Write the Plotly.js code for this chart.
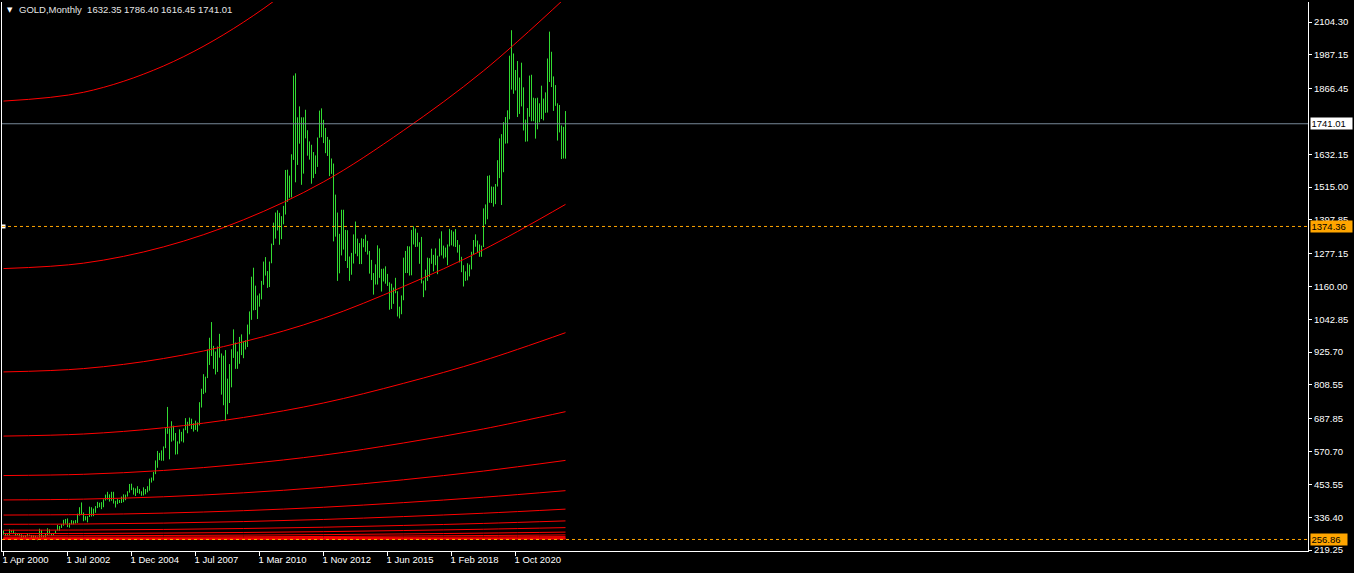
<!DOCTYPE html>
<html>
<head>
<meta charset="utf-8">
<script src="https://cdn.plot.ly/plotly-3.0.1.min.js"></script>
<style>
html,body{margin:0;padding:0;background:#000;}
#chart{width:1354px;height:573px;}
</style>
</head>
<body>
<div id="chart"></div>
<script>
// ---- DATA ----
const symbolTitle = 'GOLD,Monthly';
const headerOHLC = [1632.35, 1786.40, 1616.45, 1741.01];

// monthly bars (bar index order, Apr 2000 .. Nov 2022, broker data with a few extra bars)
const barHigh = [
  289,278,276,293,290,291,281,279,277,275,271,272,276,274,273,272,270,267,
  295,291,272,280,297,293,279,280,289,309,305,312,327,330,
  332,316,326,324,326,349,372,389,353,340,340,374,372,367,376,391,388,390,400,417,427,418,427,427,395,401,398,410,418,417,429,455,
  456,442,439,447,437,429,443,437,447,474,478,498,539,573,566,575,589,654,730,653,679,663,637,607,650,641,653,690,677,692,688,672,
  681,675,747,795,847,838,935,977,1033,948,928,946,991,921,913,933,831,883,936,1007,960,928,980,989,964,968,1024,1071,1195,1227,1163,1128,
  1135,1180,1249,1265,1215,1249,1313,1388,1424,1432,1423,1411,1448,1576,1577,1556,1632,1913,1921,1764,1803,1764,1764,1791,1718,1678,1666,1640,1628,1692,1788,1796,
  1755,1726,1694,1684,1617,1599,1488,1424,1348,1434,1434,1362,1361,1267,1280,1346,1392,1331,1315,1332,1330,1345,1323,1287,1255,1208,1239,1307,1296,1223,1224,1232,
  1205,1175,1170,1156,1191,1143,1088,1128,1263,1287,1304,1303,1362,1375,1367,1352,1318,1337,1181,1220,1263,1261,1295,1273,1296,1270,1331,1357,1306,1299,1310,1366,
  1361,1356,1365,1326,1309,1266,1236,1214,1243,1238,1284,1326,1346,1324,1310,1306,1439,1453,1555,1557,1517,1516,1526,1611,1689,1704,1747,1765,1789,1984,2075,1992,
  1933,1965,1906,1959,1871,1756,1797,1913,1916,1834,1832,1834,1814,1877,1831,1853,1974,2070,1998,1910,1879,1814,1808,1735,1730,1786.40
];
const barLow = [
  274,270,271,271,282,276,270,272,268,263,264,263,268,269,262,255,256,254,
  260,265,264,264,271,275,271,272,277,289,288,298,306,313,
  301,299,311,311,314,316,342,344,322,325,318,337,339,340,352,369,372,365,372,396,399,392,395,385,371,383,387,387,390,397,410,424,
  433,417,412,423,420,413,414,418,425,431,460,467,490,513,540,538,538,583,634,543,606,610,560,561,599,607,603,647,636,662,651,642,
  648,642,664,728,776,781,833,880,912,866,846,855,906,774,736,681,704,744,800,905,866,866,884,915,904,935,944,989,1041,1075,1076,1044,
  1088,1114,1166,1199,1155,1158,1243,1308,1331,1360,1309,1329,1382,1417,1462,1477,1478,1612,1532,1594,1670,1523,1563,1689,1627,1613,1527,1547,1562,1587,1691,1693,
  1672,1636,1626,1554,1562,1321,1338,1180,1207,1271,1292,1251,1226,1180,1202,1242,1277,1268,1240,1240,1300,1284,1274,1206,1183,1131,1167,1167,1191,1142,1178,1170,
  1162,1077,1080,1098,1136,1053,1046,1061,1111,1208,1208,1199,1200,1310,1301,1302,1241,1171,1122,1146,1180,1194,1241,1214,1236,1204,1267,1271,1260,1264,1236,1303,
  1307,1303,1301,1281,1246,1211,1160,1180,1182,1196,1221,1276,1302,1281,1266,1266,1301,1382,1400,1459,1458,1445,1454,1517,1547,1451,1568,1670,1671,1757,1863,1848,
  1860,1765,1776,1803,1717,1677,1678,1766,1750,1750,1688,1721,1746,1758,1753,1780,1781,1890,1872,1787,1805,1681,1710,1615,1617,1616.45
];

// time-axis labels at bar indices
const tickBars = [0, 32, 64, 96, 128, 160, 192, 224, 256];
const tickLabels = ['1 Apr 2000','1 Jul 2002','1 Dec 2004','1 Jul 2007','1 Mar 2010','1 Nov 2012','1 Jun 2015','1 Feb 2018','1 Oct 2020'];

// price-axis labels
const priceTicks = [2104.30,1987.15,1866.45,1632.15,1515.00,1397.85,1277.15,1160.00,1042.85,925.70,808.55,687.85,570.70,453.55,336.40,219.25];

// horizontal levels
const lastPrice = 1741.01;
const levelUpper = 1374.36;
const levelLower = 256.86;

// red arcs: base, start levels (at first bar) and growth factor along the bars
const arcBase = 256.86;
const arcLevels = [1822, 1224, 855, 626, 485, 398, 344, 311, 290, 278, 270, 265, 262, 260.1, 258.9, 258.2, 257.7];
const arcBars = [0, 40, 80, 120, 160, 200, 240, 281];
const arcGrowth = [1.00, 1.02, 1.08, 1.18, 1.32, 1.51, 1.73, 2.00];

// ---- BUILD ----
const fontFam = 'Liberation Sans, Arial, sans-serif';
const barX = [], barY = [];
for (let i = 0; i < barHigh.length; i++) {
  barX.push(i, i, null);
  barY.push(barLow[i], barHigh[i], null);
}
const traces = [{
  type: 'scatter', mode: 'lines', x: barX, y: barY,
  line: {color: '#32dc32', width: 1}, hoverinfo: 'skip', showlegend: false
}];
arcLevels.forEach(lv => {
  traces.push({
    type: 'scatter', mode: 'lines',
    x: arcBars,
    y: arcGrowth.map(g => arcBase + (lv - arcBase) * g),
    line: {color: '#ff0000', width: 1, shape: 'spline', smoothing: 1},
    hoverinfo: 'skip', showlegend: false
  });
});
traces.push({
  type: 'scatter', mode: 'markers', x: [0], y: [levelUpper],
  marker: {symbol: 'square', size: 4, color: '#ffffff'},
  hoverinfo: 'skip', showlegend: false
});

const fmt = v => v.toFixed(2);
const layout = {
  width: 1354, height: 573,
  paper_bgcolor: '#000000', plot_bgcolor: '#000000',
  margin: {l: 2, r: 46, t: 2, b: 22, pad: 0},
  font: {family: fontFam, size: 9.5, color: '#ffffff'},
  showlegend: false,
  xaxis: {
    type: 'linear', range: [-0.75, 652.25], autorange: false,
    tickmode: 'array', tickvals: tickBars, ticktext: tickLabels,
    ticks: 'outside', ticklen: 4, tickcolor: '#ffffff', tickwidth: 1,
    ticklabelposition: 'outside right', ticklabelshift: -2,
    showline: true, linecolor: '#ffffff', linewidth: 1, mirror: false,
    showgrid: false, zeroline: false, fixedrange: true,
    tickfont: {family: fontFam, size: 9.5, color: '#ffffff'}
  },
  yaxis: {
    side: 'right', range: [215.68, 2175.72], autorange: false,
    tickmode: 'array', tickvals: priceTicks, ticktext: priceTicks.map(fmt),
    ticks: 'outside', ticklen: 3, tickcolor: '#ffffff', tickwidth: 1,
    showline: true, linecolor: '#ffffff', linewidth: 1, mirror: true,
    showgrid: false, zeroline: false, fixedrange: true,
    tickfont: {family: fontFam, size: 9.5, color: '#ffffff'}
  },
  shapes: [
    {type: 'line', xref: 'paper', yref: 'y', x0: 0, x1: 1, y0: lastPrice, y1: lastPrice,
     line: {color: '#778899', width: 1}},
    {type: 'line', xref: 'paper', yref: 'y', x0: 0, x1: 1, y0: levelUpper, y1: levelUpper,
     line: {color: '#ffa500', width: 1, dash: '3px,3px'}},
    {type: 'line', xref: 'paper', yref: 'y', x0: 0, x1: 1, y0: levelLower, y1: levelLower,
     line: {color: '#ffa500', width: 1, dash: '3px,3px'}}
  ],
  annotations: [
    {xref: 'paper', yref: 'paper', x: 0, y: 1, xanchor: 'left', yanchor: 'top',
     xshift: 3, yshift: -2, showarrow: false, text: '▼',
     font: {family: 'DejaVu Sans', size: 7, color: '#ffffff'}},
    {xref: 'paper', yref: 'paper', x: 0, y: 1, xanchor: 'left', yanchor: 'top',
     xshift: 15, yshift: 0, showarrow: false,
     text: symbolTitle + '&nbsp;&nbsp;' + headerOHLC.map(fmt).join(' '),
     font: {family: fontFam, size: 9.5, color: '#e6e6e6'}},
    {xref: 'paper', yref: 'y', x: 1, y: lastPrice, xanchor: 'left', yanchor: 'middle',
     xshift: 2, showarrow: false, text: fmt(lastPrice), bgcolor: '#ffffff',
     width: 40, height: 10, align: 'left', borderpad: 0.5,
     font: {family: fontFam, size: 9.5, color: '#000000'}},
    {xref: 'paper', yref: 'y', x: 1, y: levelUpper, xanchor: 'left', yanchor: 'middle',
     xshift: 2, showarrow: false, text: fmt(levelUpper), bgcolor: '#ffa500',
     width: 40, height: 10, align: 'left', borderpad: 0.5,
     font: {family: fontFam, size: 9.5, color: '#000000'}},
    {xref: 'paper', yref: 'y', x: 1, y: levelLower, xanchor: 'left', yanchor: 'middle',
     xshift: 2, showarrow: false, text: fmt(levelLower), bgcolor: '#ffa500',
     width: 35, height: 10, align: 'left', borderpad: 0.5,
     font: {family: fontFam, size: 9.5, color: '#000000'}}
  ]
};
Plotly.newPlot('chart', traces, layout, {displayModeBar: false, staticPlot: true});
</script>
</body>
</html>
